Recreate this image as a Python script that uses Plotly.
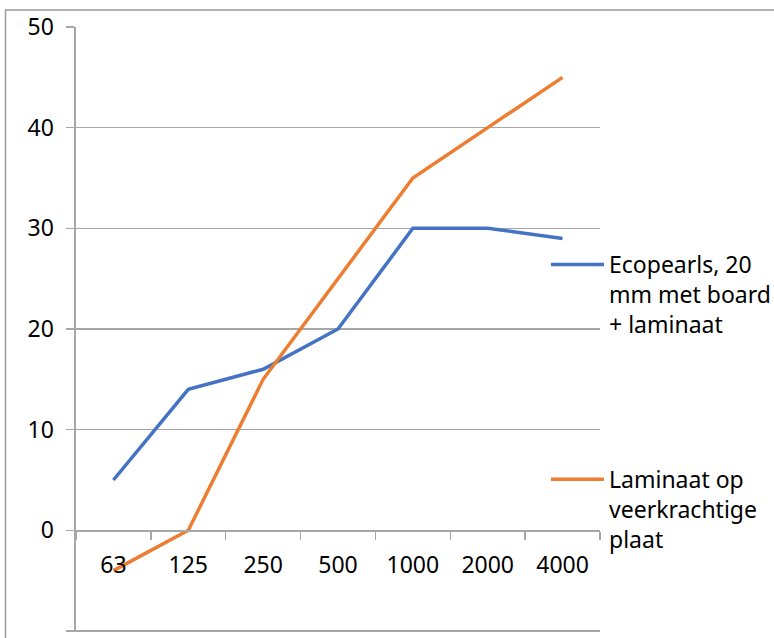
import plotly.graph_objects as go

categories = ["63", "125", "250", "500", "1000", "2000", "4000"]
series_names = ["Ecopearls, 20<br>mm met board<br>+ laminaat",
                "Laminaat op<br>veerkrachtige<br>plaat"]
ecopearls = [5, 14, 16, 20, 30, 30, 29]
laminaat = [-4, 0, 15, 25, 35, 40, 45]
colors = ["#4472C4", "#ED7D31"]
y_ticks = [-10, 0, 10, 20, 30, 40, 50]

W, H = 774, 638
L, R, T, B = 76, 600, 27, 632
Y_LO, Y_HI = -10.1, 50
FONT = dict(family="Noto Sans", size=23, color="#000000")
GRID = "#a6a6a6"

fig = go.Figure()
for name, vals, col, grp in zip(series_names, [ecopearls, laminaat], colors, ["a", "b"]):
    fig.add_trace(go.Scatter(x=categories, y=vals, mode="lines", name=name,
                             legendgroup=grp, hoverinfo="skip",
                             line=dict(color=col, width=3.5)))

def px_x(p):
    return (p - L) / (R - L)

def px_y(p):
    return (B - p) / (B - T)

border = dict(color="#9a9a9a", width=1.5)
fig.update_layout(
    width=W, height=H,
    margin=dict(l=L, r=W - R, t=T, b=H - B, pad=0, autoexpand=False),
    paper_bgcolor="white", plot_bgcolor="white",
    font=FONT,
    showlegend=True,
    legend=dict(x=px_x(546), xanchor="left", y=px_y(243), yanchor="top",
                valign="top", tracegroupgap=122, traceorder="grouped",
                itemwidth=53, font=FONT, bgcolor="rgba(0,0,0,0)"),
    xaxis=dict(type="category", range=[-0.5, 6.5], tickson="boundaries",
               ticks="outside", ticklen=8, tickcolor=GRID, tickwidth=1.3,
               showline=True, linecolor=GRID, linewidth=1.3,
               showgrid=False, zeroline=False,
               anchor="free", position=(0 - Y_LO) / (Y_HI - Y_LO),
               ticklabelstandoff=14, tickfont=FONT),
    yaxis=dict(range=[Y_LO, Y_HI], tickvals=y_ticks, ticks="outside", ticklen=8,
               tickcolor=GRID, tickwidth=1.3, showline=True, linecolor=GRID,
               linewidth=1.6, showgrid=True, gridcolor=GRID, gridwidth=1.3,
               zeroline=False, ticklabelstandoff=8, tickfont=FONT),
    shapes=[
        dict(type="line", xref="paper", yref="paper",
             x0=px_x(5.5), x1=px_x(5.5), y0=px_y(640), y1=px_y(10), line=border),
        dict(type="line", xref="paper", yref="paper",
             x0=px_x(5), x1=px_x(780), y0=px_y(10), y1=px_y(10), line=border),
    ],
)

fig.write_html("out.html",
               config={"displayModeBar": False, "staticPlot": True},
               post_script="document.body.style.margin='0';document.body.style.overflow='hidden';")
